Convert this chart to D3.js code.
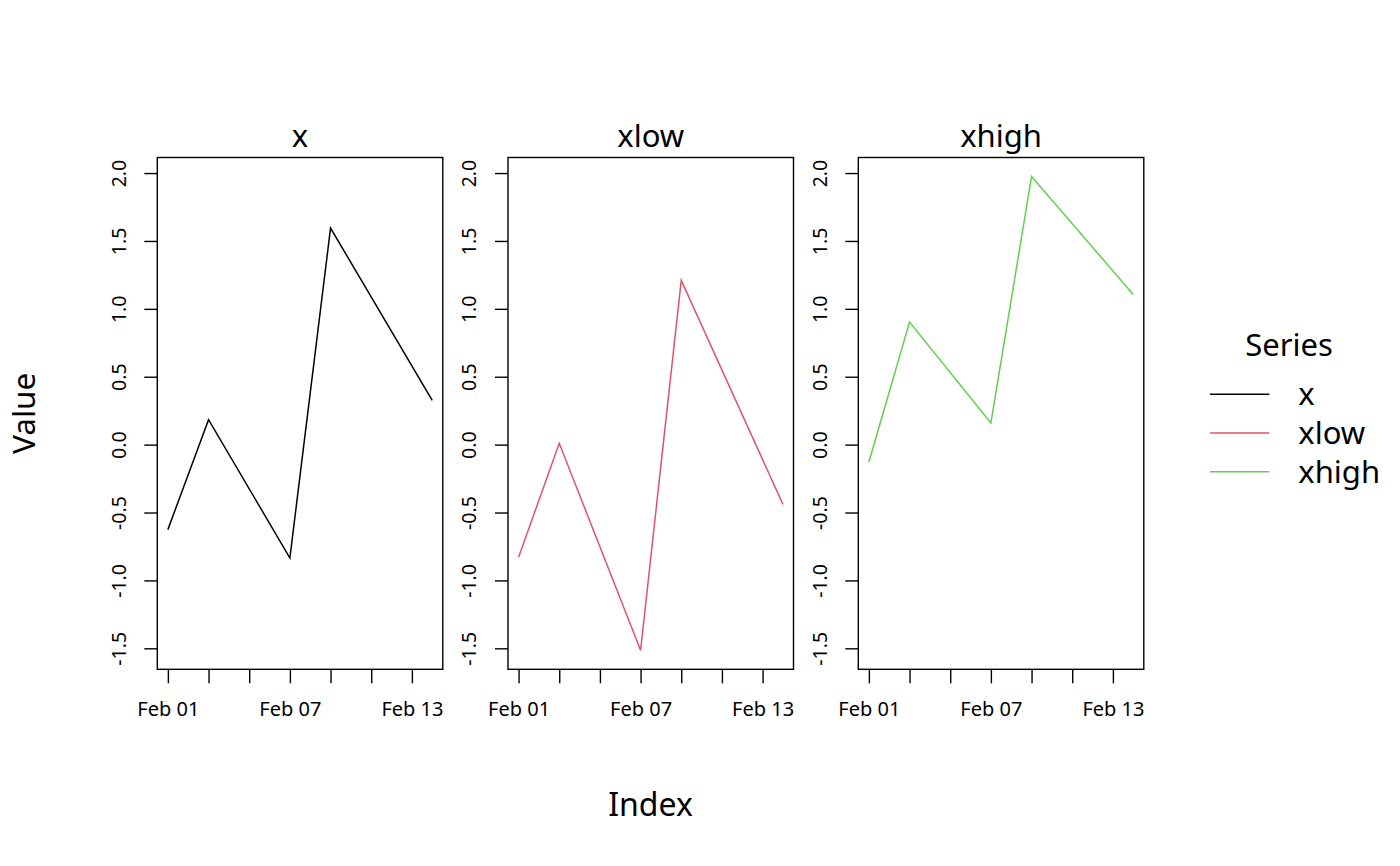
<!DOCTYPE html>
<html lang="en">
<head>
    <meta charset="UTF-8">
    <title>x / xlow / xhigh</title>
    <script src="https://d3js.org/d3.v7.min.js"></script>
    <style>
        body { margin: 0; background: #fff; }
        svg text { font-family: "Noto Sans", "Open Sans", sans-serif; fill: #000; }
    </style>
</head>
<body>
    <div id="chart"></div>

    <script>
        // Data
        const dates = ["2021-02-01", "2021-02-03", "2021-02-07", "2021-02-09", "2021-02-14"];
        const seriesNames = ["x", "xlow", "xhigh"];
        const seriesColors = ["#000000", "#DF536B", "#61D04F"];
        const xValues = [-0.626, 0.184, -0.835, 1.595, 0.326];
        const xlowValues = [-0.83, 0.01, -1.515, 1.21, -0.44];
        const xhighValues = [-0.128, 0.903, 0.16, 1.975, 1.106];
        const yTicks = [-1.5, -1.0, -0.5, 0.0, 0.5, 1.0, 1.5, 2.0];
        const xTickDates = ["2021-02-01", "2021-02-03", "2021-02-05", "2021-02-07", "2021-02-09", "2021-02-11", "2021-02-13"];
        const xTickLabels = ["Feb 01", "", "", "Feb 07", "", "", "Feb 13"];

        const parse = d3.timeParse("%Y-%m-%d");
        const allValues = [xValues, xlowValues, xhighValues];

        const width = 1400, height = 866;
        const panelLefts = [157.3, 508, 858.3];
        const panelW = 285.5, panelTop = 157.5, panelBottom = 669.3;

        const svg = d3.select("#chart")
            .append("svg")
            .attr("width", width)
            .attr("height", height);

        // shared scales, R style 4% padding
        const t = dates.map(parse);
        const tExt = d3.extent(t);
        const tPad = (tExt[1] - tExt[0]) * 0.04;
        const x = d3.scaleTime()
            .domain([new Date(+tExt[0] - tPad), new Date(+tExt[1] + tPad)])
            .range([0, panelW]);

        const yExt = d3.extent(allValues.flat());
        const yPad = (yExt[1] - yExt[0]) * 0.04;
        const y = d3.scaleLinear()
            .domain([yExt[0] - yPad, yExt[1] + yPad])
            .range([panelBottom - panelTop, 0]);

        const line = d3.line()
            .x((d, i) => x(t[i]))
            .y(d => y(d));

        seriesNames.forEach((name, k) => {
            const g = svg.append("g")
                .attr("transform", `translate(${panelLefts[k]},${panelTop})`);

            // x axis
            const xa = g.append("g")
                .attr("transform", `translate(0,${panelBottom - panelTop})`)
                .call(d3.axisBottom(x)
                    .tickValues(xTickDates.map(parse))
                    .tickFormat((d, i) => xTickLabels[i])
                    .tickSize(14));
            xa.select(".domain").remove();
            xa.selectAll("line").attr("stroke", "#000").attr("stroke-width", 1.4);
            xa.selectAll("text")
                .attr("y", 46.7)
                .attr("dy", null)
                .style("font-size", "20px")
                .style("font-family", "Noto Sans");

            // y axis (plain hyphen for negatives, like the original)
            const ya = g.append("g")
                .call(d3.axisLeft(y).tickValues(yTicks).tickFormat(d => d.toFixed(1)).tickSize(13));
            ya.select(".domain").remove();
            ya.selectAll("line").attr("stroke", "#000").attr("stroke-width", 1.4);
            ya.selectAll("text")
                .attr("x", null)
                .attr("dy", null)
                .attr("transform", "translate(-31.6,0) rotate(-90)")
                .attr("text-anchor", "middle")
                .style("font-size", "19.5px")
                .style("font-family", "Noto Sans");

            // series line
            g.append("path")
                .datum(allValues[k])
                .attr("d", line)
                .attr("fill", "none")
                .attr("stroke", seriesColors[k])
                .attr("stroke-width", 1.5);

            // box
            g.append("rect")
                .attr("width", panelW)
                .attr("height", panelBottom - panelTop)
                .attr("fill", "none")
                .attr("stroke", "#000")
                .attr("stroke-width", 1.4);

            // panel title
            g.append("text")
                .attr("x", panelW / 2)
                .attr("y", -10.5)
                .attr("text-anchor", "middle")
                .style("font-size", "31px")
                .text(name);
        });

        // outer axis labels
        svg.append("text")
            .attr("x", 650.5)
            .attr("y", 816)
            .attr("text-anchor", "middle")
            .style("font-size", "32px")
            .text("Index");

        svg.append("text")
            .attr("transform", `translate(35,413.4) rotate(-90)`)
            .attr("text-anchor", "middle")
            .style("font-size", "31.5px")
            .text("Value");

        // legend
        const legend = svg.append("g");
        legend.append("text")
            .attr("x", 1289)
            .attr("y", 356)
            .attr("text-anchor", "middle")
            .style("font-size", "31px")
            .text("Series");

        const rowY = d3.scalePoint().domain(seriesNames).range([394.3, 471.7]);
        seriesNames.forEach((name, k) => {
            legend.append("line")
                .attr("x1", 1210).attr("x2", 1269.3)
                .attr("y1", rowY(name)).attr("y2", rowY(name))
                .attr("stroke", seriesColors[k])
                .attr("stroke-width", 1.5);
            legend.append("text")
                .attr("x", 1298.3)
                .attr("y", rowY(name))
                .attr("dy", "0.35em")
                .style("font-size", "31px")
                .text(name);
        });
    </script>
</body>
</html>
